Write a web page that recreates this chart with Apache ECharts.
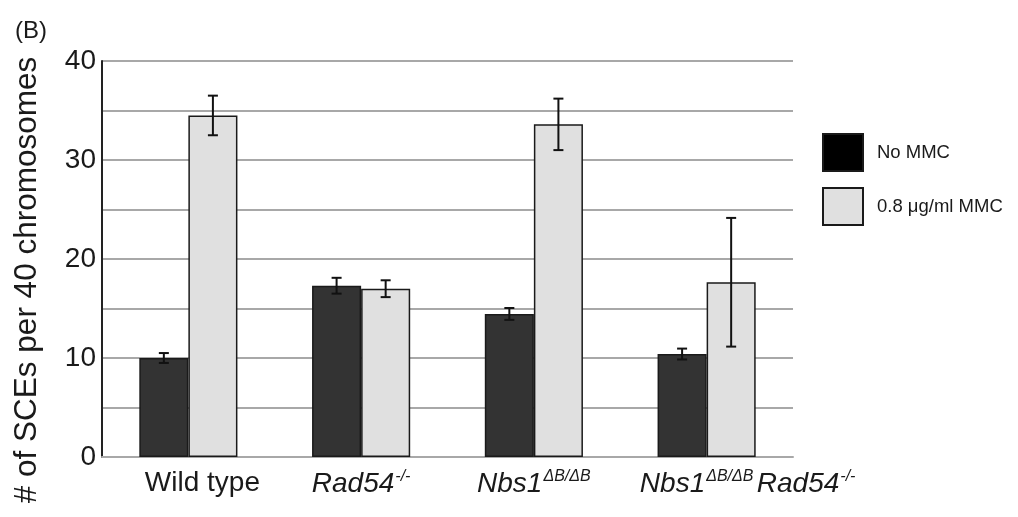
<!DOCTYPE html>
<html>
<head>
<meta charset="utf-8">
<script src="https://cdn.jsdelivr.net/npm/echarts@6/dist/echarts.min.js"></script>
<style>
html,body{margin:0;padding:0;background:#fff;}
#chart{width:1018px;height:517px;}
</style>
</head>
<body>
<div id="chart"></div>
<script>
// ---- data ----
const categories = ['Wild type', 'Rad54-/-', 'Nbs1ΔB/ΔB', 'Nbs1ΔB/ΔB Rad54-/-'];
const seriesNames = ['No MMC', '0.8 μg/ml MMC'];
const noMMC = [10.0, 17.3, 14.45, 10.4];
const noMMCErr = [0.5, 0.8, 0.6, 0.55];
const mmc = [34.5, 17.0, 33.6, 17.65];
const mmcErr = [2.0, 0.85, 2.6, 6.5];
const yTickLabels = [0, 10, 20, 30, 40];

// ---- styling ----
const FONT = 'Liberation Sans, Arial, Helvetica, sans-serif';
const BAR_FRAC = 0.284;

const labelRich = {
  n: {fontSize: 28, fontFamily: FONT, color: '#1a1a1a'},
  i: {fontSize: 28, fontFamily: FONT, fontStyle: 'italic', color: '#1a1a1a'},
  sup: {fontSize: 16, fontFamily: FONT, fontStyle: 'italic', color: '#1a1a1a', padding: [0, 0, 14, 1]},
  gapA: {width: 28},
  gapB: {width: 82}
};
function fmtLabel(v) {
  if (v === categories[0]) return '{gapA|}{n|Wild type}';
  if (v === categories[1]) return '{i|Rad54}{sup|-/-}';
  if (v === categories[2]) return '{i|Nbs1}{sup|ΔB/ΔB}';
  return '{gapB|}{i|Nbs1}{sup|ΔB/ΔB} {i|Rad54}{sup|-/-}';
}

function errRender(side) {
  return function (params, api) {
    const i = api.value(0), v = api.value(1), e = api.value(2);
    const c = api.coord([i, v]);
    const band = api.size([1, 0])[0];
    const bw = band * BAR_FRAC;
    const x = c[0] + side * bw / 2;
    const top = api.coord([i, v + e])[1];
    const bot = api.coord([i, v - e])[1];
    const cap = 5;
    const st = {stroke: '#111', lineWidth: 2};
    return {
      type: 'group',
      children: [
        {type: 'line', shape: {x1: x, y1: top, x2: x, y2: bot}, style: st},
        {type: 'line', shape: {x1: x - cap, y1: top, x2: x + cap, y2: top}, style: st},
        {type: 'line', shape: {x1: x - cap, y1: bot, x2: x + cap, y2: bot}, style: st}
      ]
    };
  };
}

const chart = echarts.init(document.getElementById('chart'));
chart.setOption({
  animation: false,
  backgroundColor: '#fff',
  grid: {left: 102, right: 225, top: 61, bottom: 60, containLabel: false},
  legend: {
    orient: 'vertical',
    left: 822, top: 133, padding: 0,
    itemWidth: 40, itemHeight: 37, itemGap: 15,
    icon: 'rect',
    textStyle: {fontSize: 18.5, fontFamily: FONT, color: '#1a1a1a', padding: [0, 0, 0, 9]},
    data: [
      {name: seriesNames[0], itemStyle: {color: '#000'}},
      {name: seriesNames[1]}
    ]
  },
  xAxis: {
    type: 'category',
    data: categories,
    axisLine: {show: true, lineStyle: {color: '#a8a8a8', width: 2}},
    axisTick: {show: false},
    axisLabel: {margin: 12, formatter: fmtLabel, rich: labelRich, interval: 0}
  },
  yAxis: {
    type: 'value',
    min: 0, max: 40, interval: 5,
    axisLine: {show: true, lineStyle: {color: '#222', width: 2}},
    axisTick: {show: false},
    splitLine: {show: true, lineStyle: {color: '#a8a8a8', width: 2}},
    axisLabel: {
      margin: 6, fontSize: 28, fontFamily: FONT, color: '#1a1a1a',
      formatter: function (v) { return yTickLabels.indexOf(v) >= 0 ? String(v) : ''; }
    }
  },
  graphic: [
    {type: 'text', left: 15, top: 19, style: {text: '(B)', fontSize: 24, fontFamily: FONT, fill: '#1a1a1a'}},
    {type: 'text', x: 27, y: 280, rotation: Math.PI / 2,
     style: {text: '# of SCEs per 40 chromosomes', fontSize: 31.5, fontFamily: FONT, fill: '#1a1a1a',
             align: 'center', verticalAlign: 'middle'}}
  ],
  series: [
    {name: seriesNames[0], type: 'bar', data: noMMC, barWidth: (BAR_FRAC * 100) + '%', barGap: '0%',
     itemStyle: {color: '#333333', borderColor: '#1a1a1a', borderWidth: 1.5}},
    {name: seriesNames[1], type: 'bar', data: mmc, barWidth: (BAR_FRAC * 100) + '%', barGap: '0%',
     itemStyle: {color: '#e0e0e0', borderColor: '#1a1a1a', borderWidth: 1.5}},
    {name: 'errNo', type: 'custom', z: 10, renderItem: errRender(-1),
     encode: {x: 0, y: 1},
     data: noMMC.map((v, i) => [i, v, noMMCErr[i]])},
    {name: 'errMMC', type: 'custom', z: 10, renderItem: errRender(1),
     encode: {x: 0, y: 1},
     data: mmc.map((v, i) => [i, v, mmcErr[i]])}
  ]
});
</script>
</body>
</html>
